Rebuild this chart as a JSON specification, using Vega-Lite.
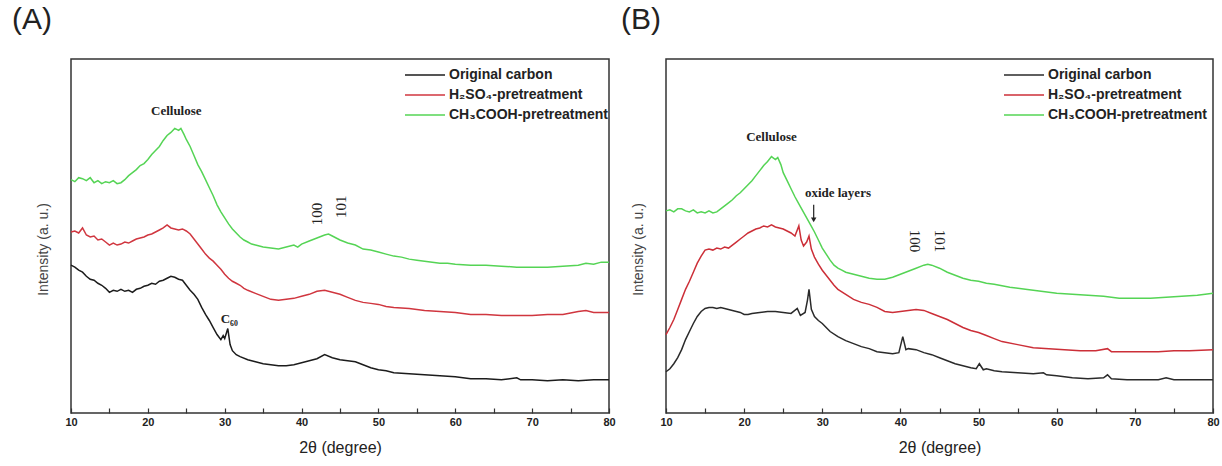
{
  "$schema": "https://vega.github.io/schema/vega-lite/v6.json",
  "autosize": {"type": "pad"},
  "padding": {"left": 11, "top": 4, "right": 4, "bottom": 4},
  "background": "white",
  "spacing": 57,
  "bounds": "flush",
  "datasets": {
    "a": [
      {"s":"O","x":10,"y":147},{"s":"O","x":10.5,"y":145},{"s":"O","x":11,"y":142},{"s":"O","x":11.5,"y":140},{"s":"O","x":12,"y":136},{"s":"O","x":12.5,"y":133},{"s":"O","x":13,"y":132},{"s":"O","x":13.5,"y":129},{"s":"O","x":14,"y":127},{"s":"O","x":14.5,"y":124},{"s":"O","x":15,"y":120},{"s":"O","x":15.5,"y":122},{"s":"O","x":16,"y":121},{"s":"O","x":16.5,"y":123},{"s":"O","x":17,"y":121},{"s":"O","x":17.5,"y":122},{"s":"O","x":18,"y":120},{"s":"O","x":18.5,"y":123},{"s":"O","x":19,"y":124},{"s":"O","x":19.5,"y":126},{"s":"O","x":20,"y":127},{"s":"O","x":20.5,"y":129},{"s":"O","x":21,"y":128},{"s":"O","x":21.5,"y":131},{"s":"O","x":22,"y":132},{"s":"O","x":22.5,"y":134},{"s":"O","x":23,"y":136},{"s":"O","x":23.5,"y":135},{"s":"O","x":24,"y":133},{"s":"O","x":24.5,"y":132},{"s":"O","x":25,"y":127},{"s":"O","x":25.5,"y":122},{"s":"O","x":26,"y":118},{"s":"O","x":26.5,"y":113},{"s":"O","x":27,"y":105},{"s":"O","x":27.5,"y":98},{"s":"O","x":28,"y":92},{"s":"O","x":28.5,"y":85},{"s":"O","x":29,"y":78},{"s":"O","x":29.5,"y":73},{"s":"O","x":29.8,"y":77},{"s":"O","x":30,"y":74},{"s":"O","x":30.4,"y":84},{"s":"O","x":30.7,"y":68},{"s":"O","x":31,"y":62},{"s":"O","x":31.5,"y":58},{"s":"O","x":32,"y":56},{"s":"O","x":33,"y":53},{"s":"O","x":34,"y":51},{"s":"O","x":35,"y":49},{"s":"O","x":36,"y":48},{"s":"O","x":37,"y":47},{"s":"O","x":38,"y":47},{"s":"O","x":39,"y":48},{"s":"O","x":40,"y":50},{"s":"O","x":41,"y":52},{"s":"O","x":42,"y":54},{"s":"O","x":43,"y":58},{"s":"O","x":44,"y":55},{"s":"O","x":45,"y":53},{"s":"O","x":46,"y":52},{"s":"O","x":47,"y":51},{"s":"O","x":48,"y":48},{"s":"O","x":49,"y":45},{"s":"O","x":50,"y":43},{"s":"O","x":51,"y":42},{"s":"O","x":52,"y":40},{"s":"O","x":54,"y":39},{"s":"O","x":56,"y":38},{"s":"O","x":58,"y":37},{"s":"O","x":60,"y":36},{"s":"O","x":62,"y":34},{"s":"O","x":64,"y":34},{"s":"O","x":66,"y":33},{"s":"O","x":68,"y":35},{"s":"O","x":68.5,"y":33},{"s":"O","x":70,"y":33},{"s":"O","x":72,"y":32},{"s":"O","x":74,"y":33},{"s":"O","x":76,"y":32},{"s":"O","x":78,"y":33},{"s":"O","x":80,"y":33},
      {"s":"H","x":10,"y":180},{"s":"H","x":10.5,"y":181},{"s":"H","x":11,"y":179},{"s":"H","x":11.5,"y":184},{"s":"H","x":12,"y":177},{"s":"H","x":12.5,"y":175},{"s":"H","x":13,"y":176},{"s":"H","x":13.5,"y":172},{"s":"H","x":14,"y":173},{"s":"H","x":14.5,"y":170},{"s":"H","x":15,"y":167},{"s":"H","x":15.5,"y":169},{"s":"H","x":16,"y":167},{"s":"H","x":16.5,"y":168},{"s":"H","x":17,"y":170},{"s":"H","x":17.5,"y":169},{"s":"H","x":18,"y":171},{"s":"H","x":18.5,"y":173},{"s":"H","x":19,"y":174},{"s":"H","x":19.5,"y":175},{"s":"H","x":20,"y":177},{"s":"H","x":20.5,"y":178},{"s":"H","x":21,"y":180},{"s":"H","x":21.5,"y":182},{"s":"H","x":22,"y":184},{"s":"H","x":22.5,"y":187},{"s":"H","x":23,"y":184},{"s":"H","x":23.5,"y":183},{"s":"H","x":24,"y":182},{"s":"H","x":24.5,"y":183},{"s":"H","x":25,"y":181},{"s":"H","x":25.5,"y":178},{"s":"H","x":26,"y":173},{"s":"H","x":26.5,"y":168},{"s":"H","x":27,"y":163},{"s":"H","x":27.5,"y":158},{"s":"H","x":28,"y":154},{"s":"H","x":28.5,"y":151},{"s":"H","x":29,"y":147},{"s":"H","x":29.5,"y":143},{"s":"H","x":30,"y":138},{"s":"H","x":30.5,"y":134},{"s":"H","x":31,"y":131},{"s":"H","x":31.5,"y":129},{"s":"H","x":32,"y":127},{"s":"H","x":32.5,"y":124},{"s":"H","x":33,"y":122},{"s":"H","x":34,"y":119},{"s":"H","x":35,"y":116},{"s":"H","x":36,"y":113},{"s":"H","x":37,"y":112},{"s":"H","x":38,"y":113},{"s":"H","x":39,"y":114},{"s":"H","x":40,"y":116},{"s":"H","x":41,"y":118},{"s":"H","x":42,"y":121},{"s":"H","x":43,"y":122},{"s":"H","x":44,"y":120},{"s":"H","x":45,"y":118},{"s":"H","x":46,"y":115},{"s":"H","x":47,"y":112},{"s":"H","x":48,"y":110},{"s":"H","x":49,"y":109},{"s":"H","x":50,"y":108},{"s":"H","x":51,"y":106},{"s":"H","x":52,"y":105},{"s":"H","x":54,"y":104},{"s":"H","x":56,"y":102},{"s":"H","x":58,"y":101},{"s":"H","x":60,"y":100},{"s":"H","x":62,"y":98},{"s":"H","x":64,"y":98},{"s":"H","x":66,"y":97},{"s":"H","x":68,"y":97},{"s":"H","x":70,"y":97},{"s":"H","x":72,"y":98},{"s":"H","x":74,"y":98},{"s":"H","x":76,"y":101},{"s":"H","x":77,"y":102},{"s":"H","x":78,"y":100},{"s":"H","x":80,"y":100},
      {"s":"C","x":10,"y":232},{"s":"C","x":10.5,"y":230},{"s":"C","x":11,"y":234},{"s":"C","x":11.5,"y":233},{"s":"C","x":12,"y":231},{"s":"C","x":12.5,"y":234},{"s":"C","x":13,"y":229},{"s":"C","x":13.5,"y":231},{"s":"C","x":14,"y":228},{"s":"C","x":14.5,"y":230},{"s":"C","x":15,"y":229},{"s":"C","x":15.5,"y":231},{"s":"C","x":16,"y":228},{"s":"C","x":16.5,"y":229},{"s":"C","x":17,"y":232},{"s":"C","x":17.5,"y":236},{"s":"C","x":18,"y":239},{"s":"C","x":18.5,"y":242},{"s":"C","x":19,"y":246},{"s":"C","x":19.5,"y":248},{"s":"C","x":20,"y":252},{"s":"C","x":20.5,"y":257},{"s":"C","x":21,"y":261},{"s":"C","x":21.5,"y":265},{"s":"C","x":22,"y":271},{"s":"C","x":22.5,"y":276},{"s":"C","x":23,"y":279},{"s":"C","x":23.5,"y":283},{"s":"C","x":24,"y":281},{"s":"C","x":24.3,"y":283},{"s":"C","x":24.7,"y":277},{"s":"C","x":25,"y":272},{"s":"C","x":25.5,"y":265},{"s":"C","x":26,"y":256},{"s":"C","x":26.5,"y":247},{"s":"C","x":27,"y":240},{"s":"C","x":27.5,"y":232},{"s":"C","x":28,"y":224},{"s":"C","x":28.5,"y":216},{"s":"C","x":29,"y":207},{"s":"C","x":29.5,"y":200},{"s":"C","x":30,"y":194},{"s":"C","x":30.5,"y":188},{"s":"C","x":31,"y":183},{"s":"C","x":31.5,"y":179},{"s":"C","x":32,"y":175},{"s":"C","x":32.5,"y":172},{"s":"C","x":33,"y":170},{"s":"C","x":33.5,"y":168},{"s":"C","x":34,"y":167},{"s":"C","x":35,"y":165},{"s":"C","x":36,"y":164},{"s":"C","x":37,"y":163},{"s":"C","x":38,"y":165},{"s":"C","x":39,"y":167},{"s":"C","x":39.5,"y":165},{"s":"C","x":40,"y":168},{"s":"C","x":41,"y":171},{"s":"C","x":42,"y":174},{"s":"C","x":43,"y":177},{"s":"C","x":43.5,"y":178},{"s":"C","x":44,"y":176},{"s":"C","x":45,"y":172},{"s":"C","x":46,"y":169},{"s":"C","x":47,"y":167},{"s":"C","x":48,"y":163},{"s":"C","x":49,"y":162},{"s":"C","x":50,"y":160},{"s":"C","x":51,"y":158},{"s":"C","x":52,"y":156},{"s":"C","x":53,"y":155},{"s":"C","x":54,"y":153},{"s":"C","x":55,"y":152},{"s":"C","x":56,"y":151},{"s":"C","x":57,"y":150},{"s":"C","x":58,"y":149},{"s":"C","x":59,"y":149},{"s":"C","x":60,"y":148},{"s":"C","x":62,"y":147},{"s":"C","x":64,"y":147},{"s":"C","x":66,"y":146},{"s":"C","x":68,"y":145},{"s":"C","x":70,"y":145},{"s":"C","x":72,"y":145},{"s":"C","x":74,"y":146},{"s":"C","x":76,"y":147},{"s":"C","x":77,"y":149},{"s":"C","x":78,"y":148},{"s":"C","x":79,"y":150},{"s":"C","x":80,"y":150}
    ],
    "b": [
      {"s":"O","x":10,"y":41},{"s":"O","x":10.5,"y":44},{"s":"O","x":11,"y":49},{"s":"O","x":11.5,"y":55},{"s":"O","x":12,"y":63},{"s":"O","x":12.5,"y":73},{"s":"O","x":13,"y":81},{"s":"O","x":13.5,"y":89},{"s":"O","x":14,"y":96},{"s":"O","x":14.5,"y":101},{"s":"O","x":15,"y":104},{"s":"O","x":15.5,"y":105},{"s":"O","x":16,"y":105},{"s":"O","x":16.5,"y":104},{"s":"O","x":17,"y":105},{"s":"O","x":17.5,"y":104},{"s":"O","x":18,"y":103},{"s":"O","x":18.5,"y":102},{"s":"O","x":19,"y":101},{"s":"O","x":19.5,"y":100},{"s":"O","x":20,"y":98},{"s":"O","x":20.5,"y":98},{"s":"O","x":21,"y":99},{"s":"O","x":22,"y":100},{"s":"O","x":23,"y":101},{"s":"O","x":24,"y":101},{"s":"O","x":25,"y":100},{"s":"O","x":26,"y":99},{"s":"O","x":26.8,"y":104},{"s":"O","x":27.2,"y":97},{"s":"O","x":27.8,"y":100},{"s":"O","x":28.1,"y":112},{"s":"O","x":28.3,"y":123},{"s":"O","x":28.6,"y":103},{"s":"O","x":29,"y":96},{"s":"O","x":29.5,"y":92},{"s":"O","x":30,"y":89},{"s":"O","x":30.5,"y":85},{"s":"O","x":31,"y":81},{"s":"O","x":32,"y":76},{"s":"O","x":33,"y":72},{"s":"O","x":34,"y":69},{"s":"O","x":35,"y":66},{"s":"O","x":36,"y":64},{"s":"O","x":37,"y":61},{"s":"O","x":38,"y":60},{"s":"O","x":39,"y":59},{"s":"O","x":39.8,"y":60},{"s":"O","x":40.3,"y":76},{"s":"O","x":40.7,"y":63},{"s":"O","x":41,"y":64},{"s":"O","x":42,"y":63},{"s":"O","x":43,"y":60},{"s":"O","x":44,"y":58},{"s":"O","x":45,"y":55},{"s":"O","x":46,"y":52},{"s":"O","x":47,"y":49},{"s":"O","x":48,"y":47},{"s":"O","x":49,"y":45},{"s":"O","x":49.7,"y":44},{"s":"O","x":50.1,"y":49},{"s":"O","x":50.6,"y":43},{"s":"O","x":51,"y":44},{"s":"O","x":52,"y":42},{"s":"O","x":53,"y":41},{"s":"O","x":55,"y":40},{"s":"O","x":57,"y":39},{"s":"O","x":58.3,"y":40},{"s":"O","x":58.7,"y":38},{"s":"O","x":60,"y":37},{"s":"O","x":62,"y":35},{"s":"O","x":64,"y":34},{"s":"O","x":66,"y":35},{"s":"O","x":66.5,"y":38},{"s":"O","x":67,"y":34},{"s":"O","x":69,"y":33},{"s":"O","x":71,"y":33},{"s":"O","x":73,"y":33},{"s":"O","x":74,"y":35},{"s":"O","x":75,"y":33},{"s":"O","x":77,"y":33},{"s":"O","x":80,"y":33},
      {"s":"H","x":10,"y":78},{"s":"H","x":10.5,"y":85},{"s":"H","x":11,"y":93},{"s":"H","x":11.5,"y":103},{"s":"H","x":12,"y":113},{"s":"H","x":12.5,"y":123},{"s":"H","x":13,"y":131},{"s":"H","x":13.5,"y":140},{"s":"H","x":14,"y":149},{"s":"H","x":14.5,"y":156},{"s":"H","x":15,"y":162},{"s":"H","x":15.5,"y":163},{"s":"H","x":16,"y":162},{"s":"H","x":16.5,"y":164},{"s":"H","x":17,"y":163},{"s":"H","x":17.5,"y":165},{"s":"H","x":18,"y":164},{"s":"H","x":18.5,"y":167},{"s":"H","x":19,"y":170},{"s":"H","x":19.5,"y":173},{"s":"H","x":20,"y":176},{"s":"H","x":20.5,"y":179},{"s":"H","x":21,"y":181},{"s":"H","x":21.5,"y":183},{"s":"H","x":22,"y":184},{"s":"H","x":22.5,"y":186},{"s":"H","x":23,"y":185},{"s":"H","x":23.5,"y":187},{"s":"H","x":24,"y":185},{"s":"H","x":24.5,"y":184},{"s":"H","x":25,"y":183},{"s":"H","x":25.5,"y":181},{"s":"H","x":26,"y":179},{"s":"H","x":26.5,"y":176},{"s":"H","x":27,"y":186},{"s":"H","x":27.3,"y":172},{"s":"H","x":27.6,"y":166},{"s":"H","x":28,"y":170},{"s":"H","x":28.3,"y":176},{"s":"H","x":28.6,"y":163},{"s":"H","x":29,"y":155},{"s":"H","x":29.5,"y":148},{"s":"H","x":30,"y":142},{"s":"H","x":30.5,"y":137},{"s":"H","x":31,"y":132},{"s":"H","x":31.5,"y":127},{"s":"H","x":32,"y":123},{"s":"H","x":33,"y":118},{"s":"H","x":34,"y":113},{"s":"H","x":35,"y":110},{"s":"H","x":36,"y":108},{"s":"H","x":37,"y":105},{"s":"H","x":38,"y":101},{"s":"H","x":39,"y":100},{"s":"H","x":40,"y":101},{"s":"H","x":41,"y":102},{"s":"H","x":42,"y":103},{"s":"H","x":43,"y":102},{"s":"H","x":44,"y":99},{"s":"H","x":45,"y":96},{"s":"H","x":46,"y":93},{"s":"H","x":47,"y":89},{"s":"H","x":48,"y":85},{"s":"H","x":49,"y":82},{"s":"H","x":50,"y":80},{"s":"H","x":51,"y":77},{"s":"H","x":52,"y":74},{"s":"H","x":53,"y":71},{"s":"H","x":55,"y":68},{"s":"H","x":57,"y":65},{"s":"H","x":59,"y":64},{"s":"H","x":61,"y":63},{"s":"H","x":63,"y":62},{"s":"H","x":65,"y":62},{"s":"H","x":66.5,"y":64},{"s":"H","x":67,"y":61},{"s":"H","x":69,"y":61},{"s":"H","x":71,"y":61},{"s":"H","x":73,"y":61},{"s":"H","x":75,"y":62},{"s":"H","x":77,"y":62},{"s":"H","x":80,"y":63},
      {"s":"C","x":10,"y":201},{"s":"C","x":10.5,"y":202},{"s":"C","x":11,"y":200},{"s":"C","x":11.5,"y":203},{"s":"C","x":12,"y":203},{"s":"C","x":12.5,"y":201},{"s":"C","x":13,"y":200},{"s":"C","x":13.5,"y":202},{"s":"C","x":14,"y":199},{"s":"C","x":14.5,"y":200},{"s":"C","x":15,"y":199},{"s":"C","x":15.5,"y":201},{"s":"C","x":16,"y":199},{"s":"C","x":16.5,"y":200},{"s":"C","x":17,"y":203},{"s":"C","x":17.5,"y":206},{"s":"C","x":18,"y":209},{"s":"C","x":18.5,"y":212},{"s":"C","x":19,"y":216},{"s":"C","x":19.5,"y":219},{"s":"C","x":20,"y":223},{"s":"C","x":20.5,"y":227},{"s":"C","x":21,"y":231},{"s":"C","x":21.5,"y":236},{"s":"C","x":22,"y":241},{"s":"C","x":22.5,"y":246},{"s":"C","x":23,"y":250},{"s":"C","x":23.5,"y":255},{"s":"C","x":24,"y":252},{"s":"C","x":24.3,"y":254},{"s":"C","x":24.7,"y":247},{"s":"C","x":25,"y":239},{"s":"C","x":25.5,"y":231},{"s":"C","x":26,"y":223},{"s":"C","x":26.5,"y":215},{"s":"C","x":27,"y":208},{"s":"C","x":27.5,"y":201},{"s":"C","x":28,"y":194},{"s":"C","x":28.5,"y":187},{"s":"C","x":29,"y":180},{"s":"C","x":29.5,"y":172},{"s":"C","x":30,"y":164},{"s":"C","x":30.5,"y":158},{"s":"C","x":31,"y":152},{"s":"C","x":31.5,"y":147},{"s":"C","x":32,"y":144},{"s":"C","x":32.5,"y":142},{"s":"C","x":33,"y":140},{"s":"C","x":34,"y":138},{"s":"C","x":35,"y":136},{"s":"C","x":36,"y":134},{"s":"C","x":37,"y":133},{"s":"C","x":38,"y":133},{"s":"C","x":39,"y":135},{"s":"C","x":40,"y":138},{"s":"C","x":41,"y":141},{"s":"C","x":42,"y":144},{"s":"C","x":43,"y":147},{"s":"C","x":43.5,"y":148},{"s":"C","x":44,"y":147},{"s":"C","x":45,"y":144},{"s":"C","x":46,"y":140},{"s":"C","x":47,"y":137},{"s":"C","x":48,"y":134},{"s":"C","x":49,"y":132},{"s":"C","x":50,"y":131},{"s":"C","x":51,"y":129},{"s":"C","x":52,"y":128},{"s":"C","x":54,"y":125},{"s":"C","x":56,"y":123},{"s":"C","x":58,"y":121},{"s":"C","x":60,"y":119},{"s":"C","x":62,"y":118},{"s":"C","x":64,"y":117},{"s":"C","x":66,"y":116},{"s":"C","x":68,"y":114},{"s":"C","x":70,"y":114},{"s":"C","x":72,"y":114},{"s":"C","x":74,"y":115},{"s":"C","x":76,"y":116},{"s":"C","x":78,"y":117},{"s":"C","x":80,"y":119}
    ],
    "ta": [
      {"label":"Cellulose","kind":"flat","x":23.7,"y":300},
      {"label":"C₆₀","kind":"flat","x":30.6,"y":93},
      {"label":"100","kind":"up","x":42,"y":198},
      {"label":"101","kind":"up","x":45.1,"y":205}
    ],
    "tb": [
      {"label":"Cellulose","kind":"flat","x":23.5,"y":274},
      {"label":"oxide layers","kind":"flat","x":32,"y":219},
      {"label":"100","kind":"down","x":41.9,"y":171},
      {"label":"101","kind":"down","x":45.1,"y":171}
    ],
    "arrow": [{"x":28.9,"y":207,"y2":192}]
  },
  "hconcat": [
    {
      "width": 538,
      "height": 354,
      "title": {"text": "(A)", "anchor": "start", "frame": "group", "dx": -59, "offset": 24},
      "layer": [
        {
          "data": {"name": "a"},
          "mark": {"type": "line", "strokeWidth": 1.5, "interpolate": "linear"},
          "encoding": {
            "x": {"field": "x", "type": "quantitative", "scale": {"domain": [10, 80], "nice": false}, "axis": {"title": "2θ  (degree)"}},
            "y": {"field": "y", "type": "quantitative", "scale": {"domain": [0, 352], "nice": false, "zero": false}, "axis": {"title": "Intensity (a. u.)"}},
            "color": {
              "field": "s", "type": "nominal",
              "scale": {"domain": ["O", "H", "C"], "range": ["#1c1c1c", "#d0363f", "#55d455"]},
              "legend": {"legendX": 333, "legendY": 6, "labelExpr": "datum.value === 'O' ? 'Original carbon' : datum.value === 'H' ? 'H₂SO₄-pretreatment' : 'CH₃COOH-pretreatment'"}
            },
            "order": {"field": "x", "type": "quantitative"}
          }
        },
        {
          "data": {"name": "ta"},
          "transform": [{"filter": "datum.kind === 'flat'"}],
          "mark": {"type": "text", "font": "Liberation Serif", "fontWeight": "bold", "fontSize": 13, "color": "#222"},
          "encoding": {
            "x": {"field": "x", "type": "quantitative"},
            "y": {"field": "y", "type": "quantitative"},
            "text": {"field": "label"}
          }
        },
        {
          "data": {"name": "ta"},
          "transform": [{"filter": "datum.kind === 'up'"}],
          "mark": {"type": "text", "font": "Liberation Serif", "fontSize": 15, "angle": 270, "color": "#222"},
          "encoding": {
            "x": {"field": "x", "type": "quantitative"},
            "y": {"field": "y", "type": "quantitative"},
            "text": {"field": "label"}
          }
        }
      ]
    },
    {
      "width": 547,
      "height": 354,
      "title": {"text": "(B)", "anchor": "start", "frame": "group", "dx": -45, "offset": 24},
      "layer": [
        {
          "data": {"name": "b"},
          "mark": {"type": "line", "strokeWidth": 1.5, "interpolate": "linear"},
          "encoding": {
            "x": {"field": "x", "type": "quantitative", "scale": {"domain": [10, 80], "nice": false}, "axis": {"title": "2θ  (degree)"}},
            "y": {"field": "y", "type": "quantitative", "scale": {"domain": [0, 352], "nice": false, "zero": false}, "axis": {"title": "Intensity (a. u.)"}},
            "color": {
              "field": "s", "type": "nominal",
              "scale": {"domain": ["O", "H", "C"], "range": ["#2a2a2a", "#cc2f38", "#55d455"]},
              "legend": {"legendX": 337, "legendY": 6, "labelExpr": "datum.value === 'O' ? 'Original carbon' : datum.value === 'H' ? 'H₂SO₄-pretreatment' : 'CH₃COOH-pretreatment'"}
            },
            "order": {"field": "x", "type": "quantitative"}
          }
        },
        {
          "data": {"name": "tb"},
          "transform": [{"filter": "datum.kind === 'flat'"}],
          "mark": {"type": "text", "font": "Liberation Serif", "fontWeight": "bold", "fontSize": 13, "color": "#222"},
          "encoding": {
            "x": {"field": "x", "type": "quantitative"},
            "y": {"field": "y", "type": "quantitative"},
            "text": {"field": "label"}
          }
        },
        {
          "data": {"name": "tb"},
          "transform": [{"filter": "datum.kind === 'down'"}],
          "mark": {"type": "text", "font": "Liberation Serif", "fontSize": 15, "angle": 90, "color": "#222"},
          "encoding": {
            "x": {"field": "x", "type": "quantitative"},
            "y": {"field": "y", "type": "quantitative"},
            "text": {"field": "label"}
          }
        },
        {
          "data": {"name": "arrow"},
          "mark": {"type": "rule", "color": "#222", "strokeWidth": 1.2},
          "encoding": {
            "x": {"field": "x", "type": "quantitative"},
            "y": {"field": "y", "type": "quantitative"},
            "y2": {"field": "y2"}
          }
        },
        {
          "data": {"name": "arrow"},
          "mark": {"type": "point", "shape": "triangle-down", "filled": true, "color": "#222", "size": 30, "opacity": 1},
          "encoding": {
            "x": {"field": "x", "type": "quantitative"},
            "y": {"field": "y2", "type": "quantitative"}
          }
        }
      ]
    }
  ],
  "resolve": {
    "scale": {"x": "independent", "y": "independent", "color": "independent"},
    "legend": {"color": "independent"},
    "axis": {"x": "independent", "y": "independent"}
  },
  "config": {
    "font": "Liberation Sans",
    "view": {"stroke": "#333", "strokeWidth": 1.5},
    "title": {"font": "Liberation Sans", "fontSize": 30, "fontWeight": "normal", "color": "#222", "baseline": "alphabetic", "anchor": "start"},
    "axisX": {
      "values": [10, 15, 20, 25, 30, 35, 40, 45, 50, 55, 60, 65, 70, 75, 80],
      "labelExpr": "datum.value % 10 === 0 ? datum.label : ''",
      "tickSize": -5,
      "tickColor": "#333",
      "tickWidth": 1.2,
      "domain": false,
      "grid": false,
      "labelFont": "Liberation Sans",
      "labelFontWeight": "bold",
      "labelFontSize": 11,
      "labelColor": "#222",
      "labelPadding": 8,
      "labelOverlap": false,
      "labelFlush": false,
      "labelBound": false,
      "titleFont": "Liberation Sans",
      "titleFontSize": 16,
      "titleFontWeight": "normal",
      "titleColor": "#222",
      "titlePadding": 12
    },
    "axisY": {
      "labels": false,
      "ticks": false,
      "domain": false,
      "grid": false,
      "titleFont": "Liberation Sans",
      "titleFontSize": 14,
      "titleFontWeight": "normal",
      "titleColor": "#444",
      "titlePadding": 21,
      "titleY": 190
    },
    "legend": {
      "orient": "none",
      "title": null,
      "symbolType": "stroke",
      "symbolSize": 1600,
      "symbolStrokeWidth": 1.5,
      "labelFont": "Liberation Sans",
      "labelFontSize": 14,
      "labelFontWeight": "bold",
      "labelColor": "#222",
      "clipHeight": 20,
      "rowPadding": 0,
      "labelOffset": 3,
      "padding": 0
    }
  }
}
